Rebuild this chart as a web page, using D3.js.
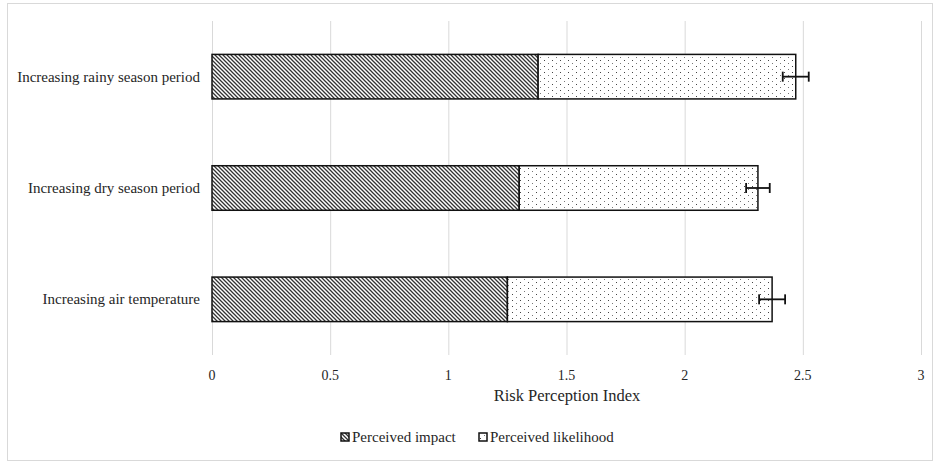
<!DOCTYPE html>
<html>
<head>
<meta charset="utf-8">
<script src="https://cdn.jsdelivr.net/npm/d3@7"></script>
<style>
  body { margin: 0; background: #fff; }
  svg text { font-family: "Liberation Serif", Tinos, "Times New Roman", Times, "Noto Serif", "DejaVu Serif", FreeSerif, serif; }
</style>
</head>
<body>
<script>
// chart data
const categories = ["Increasing rainy season period", "Increasing dry season period", "Increasing air temperature"];
const impact = [1.38, 1.30, 1.25];
const likelihood = [1.09, 1.01, 1.12];
const errors = [0.055, 0.05, 0.055];
const ticks = [0, 0.5, 1, 1.5, 2, 2.5, 3];
const seriesNames = ["Perceived impact", "Perceived likelihood"];

const W = 935, H = 463;
const margin = { top: 21, left: 212, right: 14, bottom: 108 };
const innerH = H - margin.top - margin.bottom;

const svg = d3.select("body").append("svg").attr("width", W).attr("height", H);

// patterns
const defs = svg.append("defs");
const diag = defs.append("pattern").attr("id", "diag").attr("patternUnits", "userSpaceOnUse")
  .attr("width", 4).attr("height", 4);
diag.append("rect").attr("width", 4).attr("height", 4).attr("fill", "#fff");
diag.append("path").attr("d", "M-1,-1 L5,5 M-1,3 L1,5 M3,-1 L5,1")
  .attr("stroke", "#333").attr("stroke-width", 1.3);

const dots = defs.append("pattern").attr("id", "dots").attr("patternUnits", "userSpaceOnUse")
  .attr("width", 8).attr("height", 6);
dots.append("rect").attr("width", 8).attr("height", 6).attr("fill", "#fff");
dots.append("rect").attr("x", 0).attr("y", 0).attr("width", 1).attr("height", 1).attr("fill", "#444");
dots.append("rect").attr("x", 4).attr("y", 3).attr("width", 1).attr("height", 1).attr("fill", "#777");

// outer frame
svg.append("rect").attr("x", 7.5).attr("y", 3.5).attr("width", 925).attr("height", 457)
  .attr("fill", "none").attr("stroke", "#d9d9d9");

const x = d3.scaleLinear().domain([0, 3]).range([margin.left, 921]);
const y = d3.scaleBand().domain(categories).range([margin.top, margin.top + innerH]).paddingInner(0.6).paddingOuter(0.3);

// gridlines
svg.append("g").selectAll("line").data(ticks).join("line")
  .attr("x1", d => x(d) + 0.5).attr("x2", d => x(d) + 0.5)
  .attr("y1", margin.top).attr("y2", margin.top + innerH)
  .attr("stroke", "#d9d9d9").attr("stroke-width", 1);

// tick labels
svg.append("g").selectAll("text").data(ticks).join("text")
  .attr("x", d => x(d)).attr("y", 380).attr("text-anchor", "middle")
  .attr("font-size", 14).attr("fill", "#262626").text(d => d);

// category labels
svg.append("g").selectAll("text").data(categories).join("text")
  .attr("x", 200).attr("y", d => y(d) + y.bandwidth() / 2 + 5)
  .attr("text-anchor", "end").attr("font-size", 15).attr("fill", "#262626").text(d => d);

// bars
const rows = categories.map((c, i) => ({ c, a: impact[i], b: likelihood[i], e: errors[i] }));
const g = svg.append("g");
g.selectAll("rect.imp").data(rows).join("rect").attr("class", "imp")
  .attr("x", d => x(0)).attr("y", d => y(d.c))
  .attr("width", d => x(d.a) - x(0)).attr("height", y.bandwidth())
  .attr("fill", "url(#diag)").attr("stroke", "#111").attr("stroke-width", 1.5);
g.selectAll("rect.lik").data(rows).join("rect").attr("class", "lik")
  .attr("x", d => x(d.a)).attr("y", d => y(d.c))
  .attr("width", d => x(d.a + d.b) - x(d.a)).attr("height", y.bandwidth())
  .attr("fill", "url(#dots)").attr("stroke", "#111").attr("stroke-width", 1.5);

// error bars
const eb = svg.append("g").attr("stroke", "#111").attr("stroke-width", 1.8);
rows.forEach(d => {
  const cy = y(d.c) + y.bandwidth() / 2;
  const t = d.a + d.b;
  eb.append("line").attr("x1", x(t - d.e)).attr("x2", x(t + d.e)).attr("y1", cy).attr("y2", cy);
  eb.append("line").attr("x1", x(t - d.e)).attr("x2", x(t - d.e)).attr("y1", cy - 5).attr("y2", cy + 5);
  eb.append("line").attr("x1", x(t + d.e)).attr("x2", x(t + d.e)).attr("y1", cy - 5).attr("y2", cy + 5);
});

// axis title
svg.append("text").attr("x", 567).attr("y", 401).attr("text-anchor", "middle")
  .attr("font-size", 16.5).attr("fill", "#262626").text("Risk Perception Index");

// legend
const legend = svg.append("g");
const legX = [341, 479];
seriesNames.forEach((n, i) => {
  legend.append("rect").attr("x", legX[i]).attr("y", 433).attr("width", 8).attr("height", 8)
    .attr("fill", i === 0 ? "url(#diag)" : "url(#dots)").attr("stroke", "#111").attr("stroke-width", 1.5);
  legend.append("text").attr("x", legX[i] + 11).attr("y", 442).attr("font-size", 15)
    .attr("fill", "#262626").text(n);
});
</script>
</body>
</html>
